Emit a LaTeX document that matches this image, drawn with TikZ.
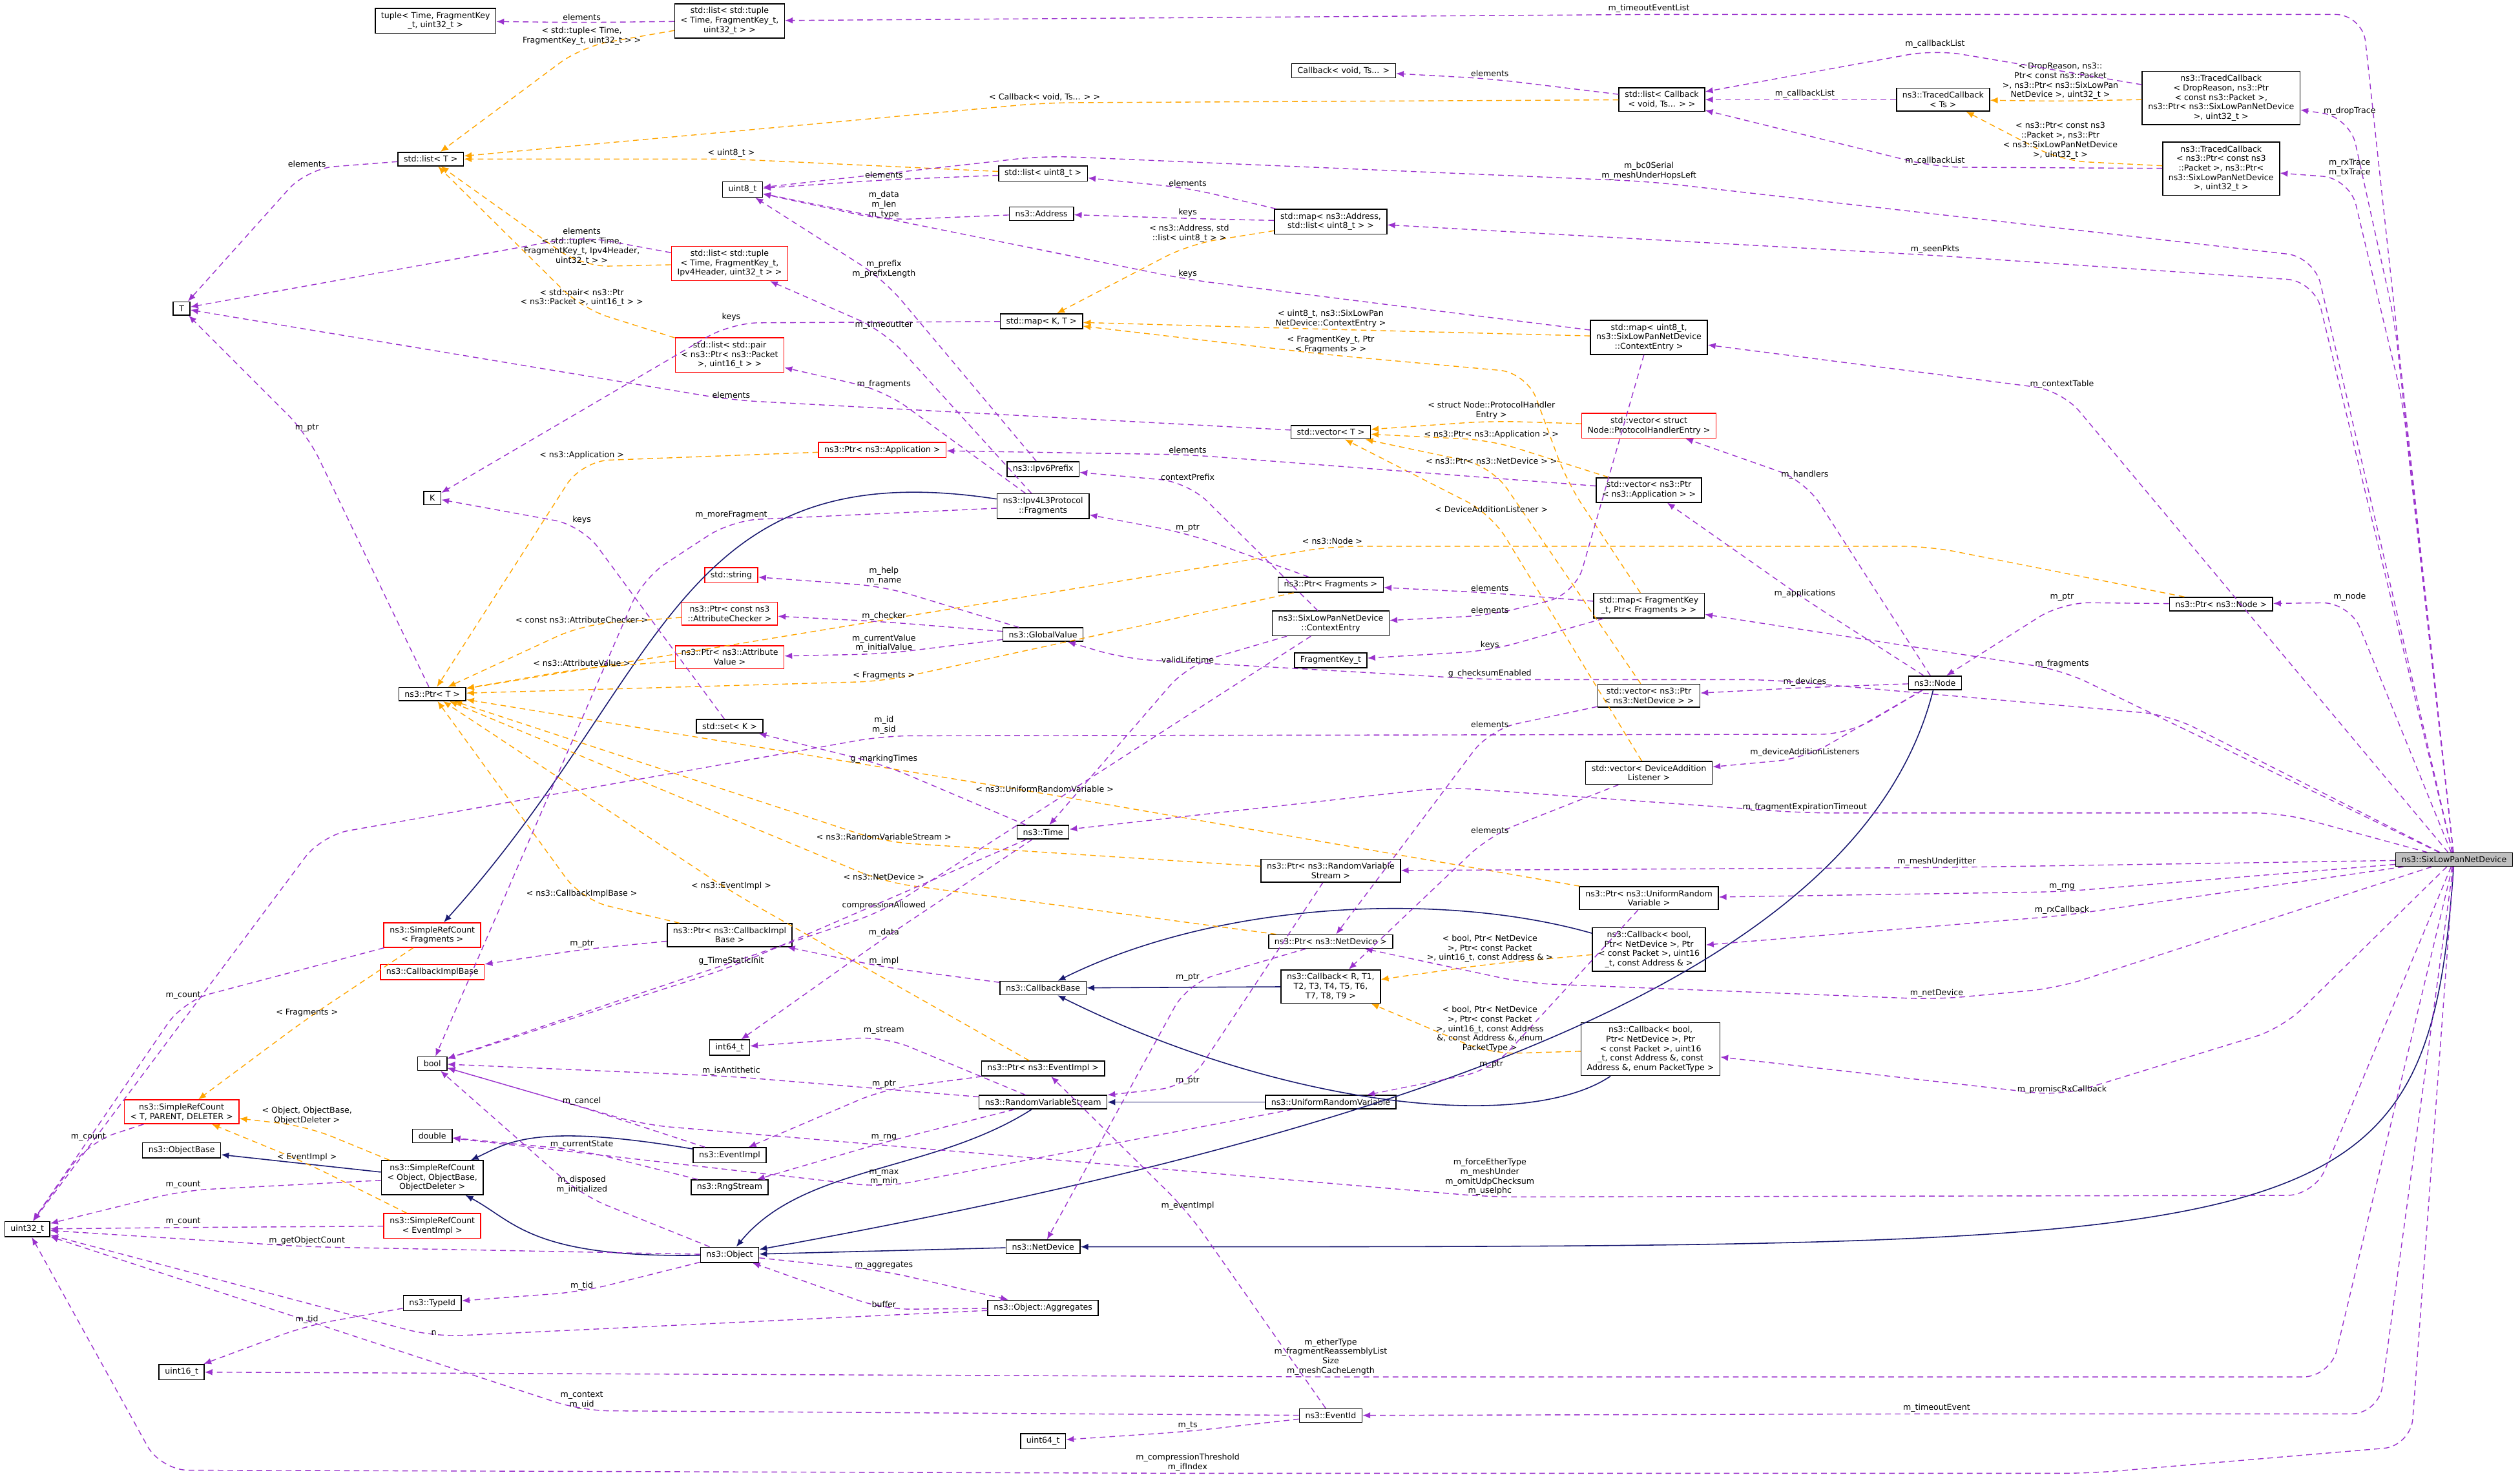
\documentclass[tikz,border=0pt]{standalone}
\usepackage{fontspec}
\setmainfont{DejaVu Sans}
\usepackage{tikz}
\usetikzlibrary{arrows.meta}
\definecolor{memcol}{HTML}{9A32CD}
\definecolor{tmplcol}{HTML}{FFA500}
\definecolor{inhcol}{HTML}{191970}
\newcommand{\dfont}{\fontsize{3.6}{4.2}\selectfont}
\tikzstyle{cls} = [draw,rectangle,align=center,font=\dfont,inner xsep=2.6pt,inner ysep=1.6pt,line width=0.45pt]
\tikzstyle{red cls} = [cls,draw=red]
\tikzstyle{self cls} = [cls,fill=black!25]
\tikzstyle{lbl} = [anchor=south,align=center,font=\dfont,inner sep=0.6pt,text=black]

\begin{document}
\begin{tikzpicture}[x=0.025cm,y=-0.025cm]

	\tikzstyle{mem}=[memcol,dash pattern=on 2.5pt off 1.8pt,line width=0.4pt,-{Latex[length=3.4pt,width=2.8pt]},rounded corners=12pt];
	\tikzstyle{tmpl}=[tmplcol,dash pattern=on 2.5pt off 1.8pt,line width=0.4pt,-{Latex[length=3.4pt,width=2.8pt]},rounded corners=12pt];
	\tikzstyle{inh}=[inhcol,line width=0.45pt,-{Latex[length=3.4pt,width=2.8pt]}];

	\useasboundingbox (0,0) rectangle (1568,918);

	% classes
	\node[cls] (tuple) at (271,13) {tuple< Time, FragmentKey\\\_t, uint32\_t >};
	\node[cls] (listtuple) at (454,13) {std::list< std::tuple\\< Time, FragmentKey\_t,\\uint32\_t > >};
	\node[cls] (callbackTs) at (836,44) {Callback< void, Ts... >};
	\node[cls] (listcb) at (1034,62) {std::list< Callback\\< void, Ts... > >};
	\node[cls] (tracedTs) at (1209,62) {ns3::TracedCallback\\< Ts >};
	\node[cls] (tracedDrop) at (1382,61) {ns3::TracedCallback\\< DropReason, ns3::Ptr\\< const ns3::Packet >,\\ns3::Ptr< ns3::SixLowPanNetDevice\\>, uint32\_t >};
	\node[cls] (tracedRx) at (1382,105) {ns3::TracedCallback\\< ns3::Ptr< const ns3\\::Packet >, ns3::Ptr<\\ns3::SixLowPanNetDevice\\>, uint32\_t >};
	\node[cls] (listT) at (268,99) {std::list< T >};
	\node[cls] (uint8) at (462,118) {uint8\_t};
	\node[cls] (listu8) at (649,108) {std::list< uint8\_t >};
	\node[cls] (address) at (648,133) {ns3::Address};
	\node[cls] (mapAddr) at (828,138) {std::map< ns3::Address,\\std::list< uint8\_t > >};
	\node[cls] (T) at (113,192) {T};
	\node[red cls] (listtuple4) at (454,164) {std::list< std::tuple\\< Time, FragmentKey\_t,\\Ipv4Header, uint32\_t > >};
	\node[red cls] (listpair) at (454,221) {std::list< std::pair\\< ns3::Ptr< ns3::Packet\\>, uint16\_t > >};
	\node[cls] (mapKT) at (648,200) {std::map< K, T >};
	\node[cls] (mapCtx) at (1026,210) {std::map< uint8\_t,\\ns3::SixLowPanNetDevice\\::ContextEntry >};
	\node[cls] (K) at (269,310) {K};
	\node[red cls] (nptrApp) at (549,280) {ns3::Ptr< ns3::Application >};
	\node[cls] (ipv6prefix) at (649,292) {ns3::Ipv6Prefix};
	\node[cls] (ipv4frag) at (649,315) {ns3::Ipv4L3Protocol\\::Fragments};
	\node[cls] (vecT) at (828,269) {std::vector< T >};
	\node[red cls] (vecProto) at (1026,265) {std::vector< struct\\Node::ProtocolHandlerEntry >};
	\node[cls] (vecApp) at (1026,305) {std::vector< ns3::Ptr\\< ns3::Application > >};
	\node[cls] (ptrFrag) at (828,364) {ns3::Ptr< Fragments >};
	\node[cls] (contextEntry) at (828,388) {ns3::SixLowPanNetDevice\\::ContextEntry};
	\node[cls] (fragKey) at (828,411) {FragmentKey\_t};
	\node[cls] (mapFrag) at (1026,377) {std::map< FragmentKey\\\_t, Ptr< Fragments > >};
	\node[cls] (vecNetDev) at (1026,433) {std::vector< ns3::Ptr\\< ns3::NetDevice > >};
	\node[cls] (vecDAL) at (1026,481) {std::vector< DeviceAddition\\Listener >};
	\node[cls] (ptrRVS) at (828,542) {ns3::Ptr< ns3::RandomVariable\\Stream >};
	\node[cls] (ptrURV) at (1026,559) {ns3::Ptr< ns3::UniformRandom\\Variable >};
	\node[cls] (cbBool) at (1026,591) {ns3::Callback< bool,\\Ptr< NetDevice >, Ptr\\< const Packet >, uint16\\\_t, const Address \& >};
	\node[cls] (ptrNetDev) at (828,586) {ns3::Ptr< ns3::NetDevice >};
	\node[cls] (cbR) at (828,614) {ns3::Callback< R, T1,\\T2, T3, T4, T5, T6,\\T7, T8, T9 >};
	\node[cls] (node) at (1204,425) {ns3::Node};
	\node[cls] (ptrNode) at (1382,376) {ns3::Ptr< ns3::Node >};
	\node[self cls] (sixlow) at (1527,535) {ns3::SixLowPanNetDevice};
	\node[red cls] (string) at (455,358) {std::string};
	\node[red cls] (ptrChecker) at (454,382) {ns3::Ptr< const ns3\\::AttributeChecker >};
	\node[red cls] (ptrAttrVal) at (454,409) {ns3::Ptr< ns3::Attribute\\Value >};
	\node[cls] (globalValue) at (649,395) {ns3::GlobalValue};
	\node[cls] (ptrT) at (269,432) {ns3::Ptr< T >};
	\node[cls] (set) at (454,452) {std::set< K >};
	\node[cls] (time) at (649,518) {ns3::Time};
	\node[cls] (ptrCbImpl) at (454,582) {ns3::Ptr< ns3::CallbackImpl\\Base >};
	\node[cls] (callbackBase) at (649,615) {ns3::CallbackBase};
	\node[red cls] (srcFrag) at (269,582) {ns3::SimpleRefCount\\< Fragments >};
	\node[red cls] (cbImplBase) at (269,605) {ns3::CallbackImplBase};
	\node[cls] (bool) at (269,662) {bool};
	\node[cls] (int64) at (454,652) {int64\_t};
	\node[cls] (ptrEventImpl) at (649,665) {ns3::Ptr< ns3::EventImpl >};
	\node[cls] (rvs) at (649,686) {ns3::RandomVariableStream};
	\node[cls] (urv) at (828,686) {ns3::UniformRandomVariable};
	\node[cls] (cbBool2) at (1027,653) {ns3::Callback< bool,\\Ptr< NetDevice >, Ptr\\< const Packet >, uint16\\\_t, const Address \&, const\\Address \&, enum PacketType >};
	\node[cls] (double) at (269,707) {double};
	\node[cls] (objectBase) at (113,716) {ns3::ObjectBase};
	\node[cls] (srcObj) at (269,733) {ns3::SimpleRefCount\\< Object, ObjectBase,\\ObjectDeleter >};
	\node[red cls] (srcTPD) at (113,692) {ns3::SimpleRefCount\\< T, PARENT, DELETER >};
	\node[red cls] (srcEvent) at (269,763) {ns3::SimpleRefCount\\< EventImpl >};
	\node[cls] (uint32) at (17,765) {uint32\_t};
	\node[cls] (eventImpl) at (454,719) {ns3::EventImpl};
	\node[cls] (rngStream) at (454,739) {ns3::RngStream};
	\node[cls] (object) at (454,781) {ns3::Object};
	\node[cls] (netDevice) at (649,776) {ns3::NetDevice};
	\node[cls] (aggregates) at (649,814) {ns3::Object::Aggregates};
	\node[cls] (typeId) at (269,811) {ns3::TypeId};
	\node[cls] (uint16) at (113,854) {uint16\_t};
	\node[cls] (uint64) at (649,897) {uint64\_t};
	\node[cls] (eventId) at (828,881) {ns3::EventId};

	% inheritance
	\draw[inh] (ipv4frag) .. controls (420,280) and (415,420) .. (srcFrag);
	\draw[inh] (srcObj) -- (objectBase);
	\draw[inh] (object) .. controls (330,783) and (320,760) .. (srcObj);
	\draw[inh] (eventImpl) .. controls (330,698) and (315,712) .. (srcObj);
	\draw[inh] (rvs) .. controls (580,730) and (500,725) .. (object);
	\draw[inh] (netDevice) -- (object);
	\draw[inh] (node) .. controls (1160,600) and (900,700) .. (object);
	\draw[inh] (sixlow) .. controls (1510,780) and (1450,776) .. (netDevice);
	\draw[inh] (cbR) -- (callbackBase);
	\draw[inh] (cbBool) .. controls (900,555) and (760,560) .. (callbackBase);
	\draw[inh] (cbBool2) .. controls (950,705) and (800,690) .. (callbackBase);
	\draw[inh] (urv) -- (rvs);

	% template instances
	\draw[tmpl] (listtuple) -- (362,29) node[lbl] {< std::tuple< Time,\\FragmentKey\_t, uint32\_t > >} -- (listT);
	\draw[tmpl] (listcb) -- (650,64) node[lbl] {< Callback< void, Ts... > >} -- (listT);
	\draw[tmpl] (listu8) -- (455,99) node[lbl] {< uint8\_t >} -- (listT);
	\draw[tmpl] (listtuple4) -- (362,166) node[lbl] {< std::tuple< Time,\\FragmentKey\_t, Ipv4Header,\\uint32\_t > >} -- (listT);
	\draw[tmpl] (listpair) -- (362,192) node[lbl] {< std::pair< ns3::Ptr\\< ns3::Packet >, uint16\_t > >} -- (listT);
	\draw[tmpl] (tracedDrop) -- (1282,63) node[lbl] {< DropReason, ns3::\\Ptr< const ns3::Packet\\>, ns3::Ptr< ns3::SixLowPan\\NetDevice >, uint32\_t >} -- (tracedTs);
	\draw[tmpl] (tracedRx) -- (1282,100) node[lbl] {< ns3::Ptr< const ns3\\::Packet >, ns3::Ptr\\< ns3::SixLowPanNetDevice\\>, uint32\_t >} -- (tracedTs);
	\draw[tmpl] (mapAddr) -- (740,152) node[lbl] {< ns3::Address, std\\::list< uint8\_t > >} -- (mapKT);
	\draw[tmpl] (mapCtx) -- (828,205) node[lbl] {< uint8\_t, ns3::SixLowPan\\NetDevice::ContextEntry >} -- (mapKT);
	\draw[tmpl] (mapFrag) -- (975,300) -- (950,232) -- (828,221) node[lbl] {< FragmentKey\_t, Ptr\\< Fragments > >} -- (mapKT);
	\draw[tmpl] (vecProto) -- (928,262) node[lbl] {< struct Node::ProtocolHandler\\Entry >} -- (vecT);
	\draw[tmpl] (vecApp) -- (928,274) node[lbl] {< ns3::Ptr< ns3::Application > >} -- (vecT);
	\draw[tmpl] (vecNetDev) -- (928,290) node[lbl] {< ns3::Ptr< ns3::NetDevice > >} -- (vecT);
	\draw[tmpl] (vecDAL) -- (928,320) node[lbl] {< DeviceAdditionListener >} -- (vecT);
	\draw[tmpl] (nptrApp) -- (362,287) node[lbl] {< ns3::Application >} -- (ptrT);
	\draw[tmpl] (ptrNode) -- (1200,340) -- (829,340) node[lbl] {< ns3::Node >} -- (ptrT);
	\draw[tmpl] (ptrChecker) -- (362,389) node[lbl] {< const ns3::AttributeChecker >} -- (ptrT);
	\draw[tmpl] (ptrAttrVal) -- (362,416) node[lbl] {< ns3::AttributeValue >} -- (ptrT);
	\draw[tmpl] (ptrFrag) -- (550,424) node[lbl] {< Fragments >} -- (ptrT);
	\draw[tmpl] (ptrURV) -- (650,494) node[lbl] {< ns3::UniformRandomVariable >} -- (ptrT);
	\draw[tmpl] (ptrRVS) -- (550,524) node[lbl] {< ns3::RandomVariableStream >} -- (ptrT);
	\draw[tmpl] (ptrNetDev) -- (550,549) node[lbl] {< ns3::NetDevice >} -- (ptrT);
	\draw[tmpl] (ptrEventImpl) -- (455,555) node[lbl] {< ns3::EventImpl >} -- (ptrT);
	\draw[tmpl] (ptrCbImpl) -- (362,560) node[lbl] {< ns3::CallbackImplBase >} -- (ptrT);
	\draw[tmpl] (cbBool) -- (927,600) node[lbl] {< bool, Ptr< NetDevice\\>, Ptr< const Packet\\>, uint16\_t, const Address \& >} -- (cbR);
	\draw[tmpl] (cbBool2) -- (927,656) node[lbl] {< bool, Ptr< NetDevice\\>, Ptr< const Packet\\>, uint16\_t, const Address\\\&, const Address \&, enum\\PacketType >} -- (cbR);
	\draw[tmpl] (srcFrag) -- (191,634) node[lbl] {< Fragments >} -- (srcTPD);
	\draw[tmpl] (srcObj) -- (191,701) node[lbl] {< Object, ObjectBase,\\ObjectDeleter >} -- (srcTPD);
	\draw[tmpl] (srcEvent) -- (191,724) node[lbl] {< EventImpl >} -- (srcTPD);

	% members
	\draw[mem] (listtuple) -- (362,14) node[lbl] {elements} -- (tuple);
	\draw[mem] (sixlow) -- (1470,9) -- (1026,9) node[lbl] {m\_timeoutEventList} -- (listtuple);
	\draw[mem] (listT) -- (191,105) node[lbl] {elements} -- (T);
	\draw[mem] (tracedDrop) -- (1204,31) node[lbl] {m\_callbackList} -- (listcb);
	\draw[mem] (tracedTs) -- (1123,62) node[lbl] {m\_callbackList} -- (listcb);
	\draw[mem] (tracedRx) -- (1204,104) node[lbl] {m\_callbackList} -- (listcb);
	\draw[mem] (listcb) -- (927,49) node[lbl] {elements} -- (callbackTs);
	\draw[mem] (sixlow) -- (1490,200) -- (1462,73) node[lbl] {m\_dropTrace} -- (tracedDrop);
	\draw[mem] (sixlow) -- (1495,250) -- (1462,111) node[lbl] {m\_rxTrace\\m\_txTrace} -- (tracedRx);
	\draw[mem] (sixlow) -- (1440,160) -- (1026,113) node[lbl] {m\_bc0Serial\\m\_meshUnderHopsLeft} -- (650,97) -- (uint8);
	\draw[mem] (listu8) -- (550,112) node[lbl] {elements} -- (uint8);
	\draw[mem] (address) -- (550,137) node[lbl] {m\_data\\m\_len\\m\_type} -- (uint8);
	\draw[mem] (mapAddr) -- (739,117) node[lbl] {elements} -- (listu8);
	\draw[mem] (mapAddr) -- (739,136) node[lbl] {keys} -- (address);
	\draw[mem] (mapCtx) -- (739,174) node[lbl] {keys} -- (uint8);
	\draw[mem] (sixlow) -- (1440,175) -- (1204,159) node[lbl] {m\_seenPkts} -- (mapAddr);
	\draw[mem] (listtuple4) -- (362,147) node[lbl] {elements} -- (T);
	\draw[mem] (ipv6prefix) -- (550,174) node[lbl] {m\_prefix\\m\_prefixLength} -- (uint8);
	\draw[mem] (mapKT) -- (455,201) node[lbl] {keys} -- (K);
	\draw[mem] (ipv4frag) -- (550,206) node[lbl] {m\_timeoutIter} -- (listtuple4);
	\draw[mem] (ipv4frag) -- (550,243) node[lbl] {m\_fragments} -- (listpair);
	\draw[mem] (vecT) -- (455,249) node[lbl] {elements} -- (T);
	\draw[mem] (vecApp) -- (739,283) node[lbl] {elements} -- (nptrApp);
	\draw[mem] (contextEntry) -- (739,300) node[lbl] {contextPrefix} -- (ipv6prefix);
	\draw[mem] (contextEntry) -- (739,414) node[lbl] {validLifetime} -- (time);
	\draw[mem] (ptrT) -- (191,270) node[lbl] {m\_ptr} -- (T);
	\draw[mem] (sixlow) -- (1283,243) node[lbl] {m\_contextTable} -- (mapCtx);
	\draw[mem] (mapCtx) -- (980,370) -- (927,383) node[lbl] {elements} -- (contextEntry);
	\draw[mem] (node) -- (1123,299) node[lbl] {m\_handlers} -- (vecProto);
	\draw[mem] (node) -- (1123,373) node[lbl] {m\_applications} -- (vecApp);
	\draw[mem] (node) -- (1123,428) node[lbl] {m\_devices} -- (vecNetDev);
	\draw[mem] (node) -- (1123,472) node[lbl] {m\_deviceAdditionListeners} -- (vecDAL);
	\draw[mem] (mapFrag) -- (927,369) node[lbl] {elements} -- (ptrFrag);
	\draw[mem] (mapFrag) -- (927,405) node[lbl] {keys} -- (fragKey);
	\draw[mem] (sixlow) -- (1283,417) node[lbl] {m\_fragments} -- (mapFrag);
	\draw[mem] (ptrNode) -- (1283,375) node[lbl] {m\_ptr} -- (node);
	\draw[mem] (sixlow) -- (1462,375) node[lbl] {m\_node} -- (ptrNode);
	\draw[mem] (ptrFrag) -- (739,332) node[lbl] {m\_ptr} -- (ipv4frag);
	\draw[mem] (ipv4frag) -- (455,324) node[lbl] {m\_moreFragment} -- (400,360) -- (bool);
	\draw[mem] (globalValue) -- (550,365) node[lbl] {m\_help\\m\_name} -- (string);
	\draw[mem] (globalValue) -- (550,387) node[lbl] {m\_checker} -- (ptrChecker);
	\draw[mem] (globalValue) -- (550,407) node[lbl] {m\_currentValue\\m\_initialValue} -- (ptrAttrVal);
	\draw[mem] (set) -- (362,327) node[lbl] {keys} -- (K);
	\draw[mem] (time) -- (550,476) node[lbl] {g\_markingTimes} -- (set);
	\draw[mem] (sixlow) -- (1420,506) -- (1123,506) node[lbl] {m\_fragmentExpirationTimeout} -- (900,490) -- (time);
	\draw[mem] (vecNetDev) -- (927,454) node[lbl] {elements} -- (ptrNetDev);
	\draw[mem] (vecDAL) -- (927,520) node[lbl] {elements} -- (cbR);
	\draw[mem] (sixlow) -- (1350,445) -- (1100,423) -- (927,423) node[lbl] {g\_checksumEnabled} -- (700,410) -- (globalValue);
	\draw[mem] (node) -- (1150,457) -- (550,458) node[lbl] {m\_id\\m\_sid} -- (200,520) -- (uint32);
	\draw[mem] (sixlow) -- (1205,540) node[lbl] {m\_meshUnderJitter} -- (ptrRVS);
	\draw[mem] (sixlow) -- (1283,555) node[lbl] {m\_rng} -- (ptrURV);
	\draw[mem] (sixlow) -- (1283,570) node[lbl] {m\_rxCallback} -- (cbBool);
	\draw[mem] (sixlow) -- (1280,615) -- (1205,622) node[lbl] {m\_netDevice} -- (950,612) -- (ptrNetDev);
	\draw[mem] (sixlow) -- (1420,640) -- (1283,682) node[lbl] {m\_promiscRxCallback} -- (cbBool2);
	\draw[mem] (sixlow) -- (1440,744) -- (927,745) node[lbl] {m\_forceEtherType\\m\_meshUnder\\m\_omitUdpChecksum\\m\_useIphc} -- (400,700) -- (bool);
	\draw[mem] (sixlow) -- (1450,857) -- (828,857) node[lbl] {m\_etherType\\m\_fragmentReassemblyList\\Size\\m\_meshCacheLength} -- (uint16);
	\draw[mem] (sixlow) -- (1480,880) -- (1205,880) node[lbl] {m\_timeoutEvent} -- (eventId);
	\draw[mem] (sixlow) -- (1500,900) -- (1300,917) -- (739,917) node[lbl] {m\_compressionThreshold\\m\_ifIndex} -- (100,915) -- (uint32);
	\draw[mem] (eventId) -- (362,878) node[lbl] {m\_context\\m\_uid} -- (uint32);
	\draw[mem] (eventId) -- (739,891) node[lbl] {m\_ts} -- (uint64);
	\draw[mem] (eventId) -- (739,754) node[lbl] {m\_eventImpl} -- (ptrEventImpl);
	\draw[mem] (ptrRVS) -- (739,676) node[lbl] {m\_ptr} -- (rvs);
	\draw[mem] (ptrURV) -- (928,666) node[lbl] {m\_ptr} -- (urv);
	\draw[mem] (ptrNetDev) -- (739,612) node[lbl] {m\_ptr} -- (netDevice);
	\draw[mem] (ptrCbImpl) -- (362,591) node[lbl] {m\_ptr} -- (cbImplBase);
	\draw[mem] (ptrEventImpl) -- (550,678) node[lbl] {m\_ptr} -- (eventImpl);
	\draw[mem] (rvs) -- (550,645) node[lbl] {m\_stream} -- (int64);
	\draw[mem] (rvs) -- (455,670) node[lbl] {m\_isAntithetic} -- (bool);
	\draw[mem] (rvs) -- (550,711) node[lbl] {m\_rng} -- (rngStream);
	\draw[mem] (urv) -- (550,739) node[lbl] {m\_max\\m\_min} -- (double);
	\draw[mem] (eventImpl) -- (362,689) node[lbl] {m\_cancel} -- (bool);
	\draw[mem] (object) -- (362,744) node[lbl] {m\_disposed\\m\_initialized} -- (bool);
	\draw[mem] (rngStream) -- (362,716) node[lbl] {m\_currentState} -- (double);
	\draw[mem] (object) -- (191,776) node[lbl] {m\_getObjectCount} -- (uint32);
	\draw[mem] (srcObj) -- (114,741) node[lbl] {m\_count} -- (uint32);
	\draw[mem] (srcEvent) -- (114,764) node[lbl] {m\_count} -- (uint32);
	\draw[mem] (srcTPD) -- (55,711) node[lbl] {m\_count} -- (uint32);
	\draw[mem] (srcFrag) -- (114,623) node[lbl] {m\_count} -- (uint32);
	\draw[mem] (object) -- (362,804) node[lbl] {m\_tid} -- (typeId);
	\draw[mem] (typeId) -- (191,825) node[lbl] {m\_tid} -- (uint16);
	\draw[mem] (aggregates) -- (270,832) node[lbl] {n} -- (uint32);
	\draw[mem] (object) -- (550,791) node[lbl] {m\_aggregates} -- (aggregates);
	\draw[mem] (aggregates) -- (550,815) node[lbl] {buffer} -- (object);
	\draw[mem] (contextEntry) -- (550,567) node[lbl] {compressionAllowed} -- (bool);
	\draw[mem] (time) -- (550,584) node[lbl] {m\_data} -- (int64);
	\draw[mem] (callbackBase) -- (550,602) node[lbl] {m\_impl} -- (ptrCbImpl);
	\draw[mem] (time) -- (455,602) node[lbl] {g\_TimeStaticInit} -- (bool);
\end{tikzpicture}
\end{document}
